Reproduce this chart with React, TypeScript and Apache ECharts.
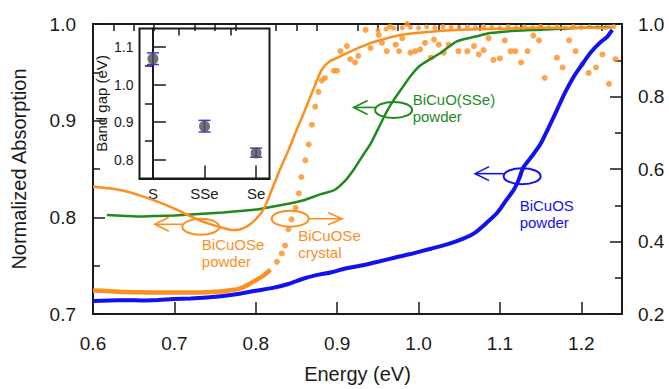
import React, { useEffect, useRef } from 'react';
import * as echarts from 'echarts';

const FONT = '"Liberation Sans", Arial, Helvetica, sans-serif';
const ORANGE = '#fb8f1f';
const GREEN = '#1f8a1f';
const BLUE = '#1212ee';
const INK = '#1a1a1a';

// Main x-axis ticks (Energy, eV)
const xMajorTicks = [0.6, 0.7, 0.8, 0.9, 1.0, 1.1, 1.2];
const xMinorTicks = [0.625, 0.65, 0.675, 0.725, 0.75, 0.775, 0.825, 0.85, 0.875, 0.925, 0.95, 0.975,
  1.025, 1.05, 1.075, 1.125, 1.15, 1.175, 1.225];

// BiCuOSe powder (left axis)
const energyPowderSe = [0.600, 0.620, 0.640, 0.660, 0.680, 0.700, 0.720, 0.740, 0.760, 0.770, 0.780, 0.790, 0.800,
  0.810, 0.820, 0.830, 0.840, 0.850, 0.860, 0.870, 0.880, 0.885, 0.890, 0.900, 0.910, 0.920, 0.940, 0.960, 0.980,
  1.000, 1.050, 1.100, 1.150, 1.200, 1.238];
const absPowderSe = [0.832, 0.830, 0.827, 0.822, 0.816, 0.809, 0.801, 0.794, 0.789, 0.787, 0.7875, 0.791, 0.798,
  0.809, 0.829, 0.850, 0.869, 0.890, 0.910, 0.931, 0.951, 0.957, 0.961, 0.965, 0.969, 0.973, 0.980, 0.985, 0.989,
  0.991, 0.994, 0.995, 0.996, 0.996, 0.996];

// BiCuO(SSe) powder (left axis)
const energySSe = [0.617, 0.640, 0.660, 0.680, 0.700, 0.720, 0.740, 0.760, 0.780, 0.800, 0.820, 0.840, 0.860, 0.880,
  0.896, 0.910, 0.920, 0.930, 0.941, 0.950, 0.961, 0.970, 0.982, 0.990, 1.002, 1.015, 1.027, 1.047, 1.070, 1.088,
  1.120, 1.150, 1.200, 1.236];
const absSSe = [0.8025, 0.8015, 0.8008, 0.8015, 0.802, 0.803, 0.804, 0.805, 0.8065, 0.808, 0.811, 0.814, 0.818, 0.824,
  0.828, 0.838, 0.849, 0.862, 0.876, 0.891, 0.9095, 0.922, 0.9365, 0.946, 0.957, 0.964, 0.970, 0.982, 0.987, 0.9906,
  0.993, 0.994, 0.996, 0.997];

// BiCuOS powder (left axis)
const energyS = [0.600, 0.620, 0.640, 0.660, 0.680, 0.700, 0.720, 0.740, 0.760, 0.780, 0.800, 0.821, 0.840, 0.860,
  0.879, 0.892, 0.910, 0.933, 0.950, 0.974, 0.990, 1.015, 1.035, 1.055, 1.070, 1.084, 1.097, 1.108, 1.117, 1.123,
  1.129, 1.140, 1.150, 1.160, 1.170, 1.180, 1.191, 1.200, 1.211, 1.222, 1.232, 1.238];
const absS = [0.7135, 0.714, 0.7142, 0.714, 0.7145, 0.7155, 0.716, 0.717, 0.7186, 0.721, 0.724, 0.727, 0.731, 0.737,
  0.741, 0.743, 0.747, 0.7507, 0.754, 0.759, 0.762, 0.7675, 0.772, 0.778, 0.7845, 0.7946, 0.805, 0.818, 0.8284, 0.8386,
  0.852, 0.864, 0.876, 0.893, 0.911, 0.929, 0.946, 0.957, 0.970, 0.980, 0.987, 0.994];

// BiCuOSe crystal (right axis): dense low-energy part
const energyCrystalDense = [0.600, 0.620, 0.640, 0.660, 0.680, 0.700, 0.720, 0.740, 0.760, 0.780, 0.790, 0.800, 0.810, 0.818];
const absCrystalDense = [0.265, 0.263, 0.261, 0.260, 0.259, 0.259, 0.259, 0.260, 0.263, 0.270, 0.280, 0.293, 0.307, 0.322];

// BiCuOSe crystal (right axis): sparse points
const energyCrystal = [0.826, 0.832, 0.836, 0.840, 0.844, 0.849, 0.853, 0.856, 0.861, 0.865, 0.869, 0.873, 0.877, 0.881,
  0.885, 0.896, 0.900, 0.904, 0.912, 0.916, 0.922, 0.926, 0.935, 0.941, 0.951, 0.955, 0.961, 0.965, 0.972, 0.976,
  0.980, 0.986, 0.990, 0.996, 1.002, 1.008, 1.015, 1.019, 1.025, 1.031, 1.037, 1.049, 1.060, 1.068, 1.074, 1.080,
  1.086, 1.092, 1.100, 1.106, 1.113, 1.119, 1.126, 1.134, 1.141, 1.148, 1.155, 1.170, 1.177, 1.185, 1.193, 1.201,
  1.209, 1.218, 1.226, 1.234, 1.242];
const absCrystal = [0.344, 0.367, 0.389, 0.434, 0.461, 0.493, 0.533, 0.578, 0.624, 0.668, 0.722, 0.772, 0.813, 0.844,
  0.851, 0.871, 0.871, 0.925, 0.939, 0.903, 0.894, 0.912, 0.984, 0.934, 0.970, 0.948, 0.925, 0.993, 0.943, 0.925,
  0.961, 1.000, 0.921, 0.925, 0.930, 0.948, 0.907, 0.957, 0.943, 0.921, 0.943, 0.925, 0.925, 0.939, 0.916, 0.928,
  0.961, 0.901, 0.905, 0.955, 0.925, 0.925, 0.894, 0.925, 0.968, 0.955, 0.851, 0.907, 0.880, 0.955, 0.925, 0.889,
  0.865, 0.880, 0.916, 0.835, 0.903];

// BiCuOSe crystal (right axis): points near saturation
const energyCrystalTop = [0.950, 0.960, 0.970, 0.980, 0.990, 1.000, 1.010, 1.020, 1.030, 1.040, 1.050, 1.060, 1.070,
  1.080, 1.090, 1.100, 1.110, 1.120, 1.130, 1.140, 1.150, 1.160, 1.170, 1.180, 1.190, 1.200, 1.210, 1.220, 1.230, 1.240];
const absCrystalTop = [0.983, 0.986, 0.988, 0.990, 0.991, 0.989, 0.992, 0.990, 0.993, 0.991, 0.990, 0.992, 0.990,
  0.993, 0.991, 0.989, 0.993, 0.990, 0.992, 0.990, 0.994, 0.990, 0.992, 0.989, 0.993, 0.990, 0.992, 0.991, 0.990, 0.993];

// Inset: band gap
const insetCategories = ['S', 'SSe', 'Se'];
const bandGap = [1.069, 0.889, 0.818];
const bandGapLow = [1.054, 0.874, 0.807];
const bandGapHigh = [1.085, 0.905, 0.831];
const insetMajorY = [0.8, 0.9, 1.0, 1.1];
const insetMinorY = [0.85, 0.95, 1.05];

// Annotation anchors (energy, left-axis absorption)
const annotations = [
  { anchor: [0.9694, 0.9111], color: GREEN, text: 'BiCuO(SSe)\npowder', dir: 'left', tip: 40, dy: -2.5, tdx: 19, tdy: -19 },
  { anchor: [1.1273, 0.8426], color: BLUE, text: 'BiCuOS\npowder', dir: 'left', tip: 47, dy: -2.5, tdx: -2.5, tdy: 20.5 },
  { anchor: [0.7325, 0.7902], color: ORANGE, text: 'BiCuOSe\npowder', dir: 'left', tip: 46, dy: -2.5, tdx: 1, tdy: 9 },
  { anchor: [0.8423, 0.7986], color: ORANGE, text: 'BiCuOSe\ncrystal', dir: 'right', tip: 52, dy: 0, tdx: 8, tdy: 8 },
];

const zip = (a: number[], b: number[]) => a.map((v, i) => [v, b[i]]);

export default function App() {
  const ref = useRef<HTMLDivElement>(null);
  useEffect(() => {
    if (!ref.current) return;
    const chart = echarts.init(ref.current, undefined, { renderer: 'svg' });
    const tickLine = { color: INK, width: 1.5 };
    const option: any = {
      animation: false,
      backgroundColor: '#fff',
      textStyle: { fontFamily: FONT },
      grid: [
        { left: 93, top: 24, right: 47, bottom: 69, show: true, borderColor: INK, borderWidth: 2, containLabel: false },
        { left: 139.5, top: 28.5, width: 130, height: 150, show: true, borderColor: INK, borderWidth: 2, backgroundColor: 'rgba(255,255,255,0)' },
      ],
      xAxis: [
        {
          type: 'value', gridIndex: 0, min: 0.6, max: 1.25,
          axisLine: { show: true, lineStyle: { color: INK, width: 2 } },
          axisTick: { show: true, inside: true, length: 12, lineStyle: tickLine, customValues: xMajorTicks },
          axisLabel: { show: true, customValues: xMajorTicks, margin: 20, fontSize: 19, color: INK, fontFamily: FONT,
            formatter: (v: number) => v.toFixed(1) },
          splitLine: { show: false },
          name: 'Energy (eV)', nameLocation: 'middle', nameGap: 50,
          nameTextStyle: { fontSize: 20, color: INK, fontFamily: FONT },
        },
        {
          type: 'value', gridIndex: 0, min: 0.6, max: 1.25,
          axisLine: { show: false },
          axisTick: { show: true, inside: true, length: 7, lineStyle: tickLine, customValues: xMinorTicks },
          axisLabel: { show: false },
          splitLine: { show: false },
        },
        {
          type: 'value', gridIndex: 1, min: -0.26, max: 2.26,
          axisLine: { show: true, lineStyle: { color: INK, width: 2 } },
          axisTick: { show: true, inside: true, length: 13, lineStyle: tickLine, customValues: [0, 1, 2] },
          axisLabel: { show: true, customValues: [0, 1, 2], margin: 7, fontSize: 15, color: INK, fontFamily: FONT,
            formatter: (v: number) => insetCategories[Math.round(v)] ?? '' },
          splitLine: { show: false },
        },
        {
          type: 'value', gridIndex: 1, min: -0.26, max: 2.26,
          axisLine: { show: false },
          axisTick: { show: true, inside: true, length: 7, lineStyle: tickLine, customValues: [0.5, 1.5] },
          axisLabel: { show: false },
          splitLine: { show: false },
        },
      ],
      yAxis: [
        {
          type: 'value', gridIndex: 0, min: 0.7, max: 1.0, interval: 0.1, position: 'left',
          axisLine: { show: true, lineStyle: { color: INK, width: 2 } },
          axisTick: { show: true, inside: true, length: 12, lineStyle: tickLine },
          minorTick: { show: true, splitNumber: 2, length: 7, lineStyle: tickLine },
          axisLabel: { margin: 17, fontSize: 19, color: INK, fontFamily: FONT, formatter: (v: number) => v.toFixed(1) },
          splitLine: { show: false },
          name: 'Normalized Absorption', nameLocation: 'middle', nameGap: 64,
          nameTextStyle: { fontSize: 20, color: INK, fontFamily: FONT },
        },
        {
          type: 'value', gridIndex: 0, min: 0.2, max: 1.0, interval: 0.2, position: 'right',
          axisLine: { show: true, lineStyle: { color: INK, width: 2 } },
          axisTick: { show: true, inside: true, length: 12, lineStyle: tickLine },
          minorTick: { show: true, splitNumber: 2, length: 7, lineStyle: tickLine },
          axisLabel: { margin: 16, fontSize: 19, color: INK, fontFamily: FONT, formatter: (v: number) => v.toFixed(1) },
          splitLine: { show: false },
        },
        {
          type: 'value', gridIndex: 1, min: 0.75, max: 1.15,
          axisLine: { show: true, lineStyle: { color: INK, width: 2 } },
          axisTick: { show: true, inside: true, length: 13, lineStyle: tickLine, customValues: insetMajorY },
          axisLabel: { show: true, customValues: insetMajorY, margin: 6, fontSize: 14, color: INK, fontFamily: FONT,
            formatter: (v: number) => v.toFixed(1) },
          splitLine: { show: false },
          name: 'Band gap (eV)', nameLocation: 'middle', nameGap: 31,
          nameTextStyle: { fontSize: 15, color: INK, fontFamily: FONT },
        },
        {
          type: 'value', gridIndex: 1, min: 0.75, max: 1.15,
          axisLine: { show: false },
          axisTick: { show: true, inside: true, length: 8, lineStyle: tickLine, customValues: insetMinorY },
          axisLabel: { show: false },
          splitLine: { show: false },
        },
      ],
      series: [
        {
          name: 'BiCuOSe crystal (dense)', type: 'line', xAxisIndex: 0, yAxisIndex: 1,
          data: zip(energyCrystalDense, absCrystalDense), showSymbol: false, smooth: 0.3,
          lineStyle: { color: ORANGE, width: 4.5 }, z: 3,
        },
        {
          name: 'BiCuOSe crystal', type: 'scatter', xAxisIndex: 0, yAxisIndex: 1,
          data: zip(energyCrystal, absCrystal), symbolSize: 6, itemStyle: { color: ORANGE }, z: 3,
        },
        {
          name: 'BiCuOSe crystal (top)', type: 'scatter', xAxisIndex: 0, yAxisIndex: 1,
          data: zip(energyCrystalTop, absCrystalTop), symbolSize: 5, itemStyle: { color: ORANGE }, z: 3,
        },
        {
          name: 'BiCuOS powder', type: 'line', xAxisIndex: 0, yAxisIndex: 0,
          data: zip(energyS, absS), showSymbol: false, smooth: 0.2,
          lineStyle: { color: BLUE, width: 4 }, z: 4,
        },
        {
          name: 'BiCuO(SSe) powder', type: 'line', xAxisIndex: 0, yAxisIndex: 0,
          data: zip(energySSe, absSSe), showSymbol: false, smooth: 0.2,
          lineStyle: { color: GREEN, width: 2.5 }, z: 4,
        },
        {
          name: 'BiCuOSe powder', type: 'line', xAxisIndex: 0, yAxisIndex: 0,
          data: zip(energyPowderSe, absPowderSe), showSymbol: false, smooth: 0.2,
          lineStyle: { color: ORANGE, width: 2.5 }, z: 5,
        },
        {
          name: 'Band gap error', type: 'custom', xAxisIndex: 2, yAxisIndex: 2,
          data: bandGap.map((v, i) => [i, v, bandGapLow[i], bandGapHigh[i]]),
          encode: { x: 0, y: [1, 2, 3] },
          renderItem: (params: any, api: any) => {
            const x = api.value(0);
            const lo = api.coord([x, api.value(2)]);
            const hi = api.coord([x, api.value(3)]);
            const w = 6;
            const st = { stroke: '#3b3bdd', lineWidth: 1.5 };
            return {
              type: 'group',
              children: [
                { type: 'line', shape: { x1: lo[0], y1: lo[1], x2: hi[0], y2: hi[1] }, style: st },
                { type: 'line', shape: { x1: lo[0] - w, y1: lo[1], x2: lo[0] + w, y2: lo[1] }, style: st },
                { type: 'line', shape: { x1: hi[0] - w, y1: hi[1], x2: hi[0] + w, y2: hi[1] }, style: st },
              ],
            };
          },
          z: 6,
        },
        {
          name: 'Band gap', type: 'scatter', xAxisIndex: 2, yAxisIndex: 2,
          data: bandGap.map((v, i) => [i, v]), symbolSize: 11,
          itemStyle: { color: '#4f4f4f' }, z: 7,
        },
      ],
    };
    chart.setOption(option);

    const r = 18.5;
    const ry = 8;
    const graphics: any[] = [];
    annotations.forEach((a) => {
      const p = chart.convertToPixel({ xAxisIndex: 0, yAxisIndex: 0 }, a.anchor) as number[];
      const cx = p[0];
      const cy = p[1];
      const st = { stroke: a.color, lineWidth: 1.6, fill: 'none' };
      graphics.push({ type: 'ellipse', shape: { cx, cy, rx: r, ry }, style: { stroke: a.color, lineWidth: 2, fill: 'none' }, z: 100 });
      const y = cy + a.dy;
      if (a.dir === 'left') {
        const tip = cx - a.tip;
        graphics.push({ type: 'line', shape: { x1: cx - r, y1: y, x2: tip, y2: y }, style: st, z: 100 });
        graphics.push({ type: 'polyline', shape: { points: [[tip + 14, y - 7], [tip, y], [tip + 14, y + 7]] }, style: st, z: 100 });
      } else {
        const tip = cx + a.tip;
        graphics.push({ type: 'line', shape: { x1: cx + r, y1: y, x2: tip, y2: y }, style: st, z: 100 });
        graphics.push({ type: 'polyline', shape: { points: [[tip - 14, y - 6], [tip, y], [tip - 14, y + 6]] }, style: st, z: 100 });
      }
      graphics.push({
        type: 'text', x: cx + a.tdx, y: cy + a.tdy, z: 100,
        style: { text: a.text, fill: a.color, fontSize: 15, fontFamily: FONT, lineHeight: 17, align: 'left', verticalAlign: 'top' },
      });
    });
    chart.setOption({ graphic: graphics });

    return () => chart.dispose();
  }, []);
  return <div ref={ref} style={{ position: 'fixed', left: 0, top: 0, width: 669, height: 389 }} />;
}
